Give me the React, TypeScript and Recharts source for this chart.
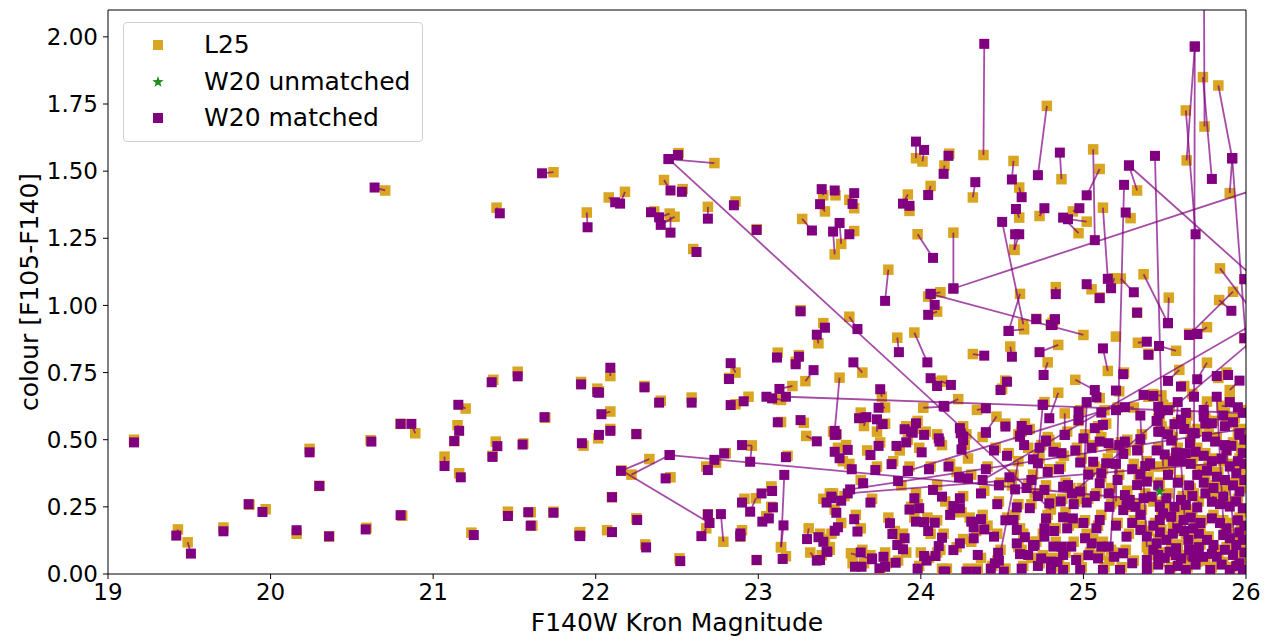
import React from 'react';
import { ScatterChart, Scatter, XAxis, YAxis, ReferenceLine } from 'recharts';

// [L25 mag, L25 colour, W20 mag, W20 colour]
type Match = [number, number, number, number];
type Pt = [number, number];

const magTicks = [19, 20, 21, 22, 23, 24, 25, 26];
const colourTicks = [0, 0.25, 0.5, 0.75, 1.0, 1.25, 1.5, 1.75, 2.0];

// bright end, well separated sources
const brightMatches: Match[] = [
  [19.16, 0.5, 19.16, 0.49], [19.43, 0.166, 19.42, 0.143], [19.49, 0.118, 19.51, 0.076],
  [19.71, 0.173, 19.71, 0.159], [19.87, 0.258, 19.865, 0.26], [19.97, 0.241, 19.95, 0.231],
  [20.16, 0.15, 20.16, 0.163], [20.36, 0.14, 20.36, 0.14], [20.59, 0.172, 20.585, 0.166],
  [20.81, 0.217, 20.8, 0.219], [20.24, 0.466, 20.24, 0.453], [20.3, 0.328, 20.3, 0.328],
  [20.615, 0.498, 20.62, 0.493], [20.8, 0.559, 20.8, 0.559], [20.89, 0.524, 20.866, 0.559],
  [21.07, 0.437, 21.07, 0.402], [21.13, 0.495, 21.13, 0.495], [21.15, 0.554, 21.16, 0.533],
  [21.2, 0.616, 21.155, 0.63], [21.16, 0.375, 21.17, 0.36], [21.235, 0.154, 21.25, 0.145],
  [21.37, 0.723, 21.36, 0.714], [21.385, 0.493, 21.395, 0.476], [21.365, 0.44, 21.365, 0.436],
  [21.46, 0.232, 21.46, 0.216], [21.52, 0.753, 21.52, 0.736], [21.555, 0.486, 21.55, 0.482],
  [21.6, 0.23, 21.585, 0.23], [21.61, 0.18, 21.6, 0.18], [21.69, 0.582, 21.685, 0.584],
  [21.74, 0.232, 21.74, 0.228], [21.9, 0.154, 21.9, 0.143], [21.925, 0.478, 21.915, 0.487],
  [21.91, 0.715, 21.91, 0.706], [22.01, 0.69, 22.01, 0.677], [20.705, 1.428, 20.64, 1.439],
  [21.74, 1.496, 21.67, 1.492], [21.39, 1.364, 21.41, 1.343], [21.945, 1.346, 21.95, 1.291],
];

const midMatches: Match[] = [
  [22.09, 0.605, 22.035, 0.595], [22.015, 0.505, 22.02, 0.518], [22.09, 0.737, 22.09, 0.768],
  [22.02, 0.68, 22.02, 0.675], [22.09, 0.54, 22.09, 0.533], [22.25, 0.521, 22.25, 0.521],
  [22.3, 0.7, 22.3, 0.695], [22.4, 0.645, 22.39, 0.638], [22.59, 0.657, 22.59, 0.638],
  [22.86, 0.75, 22.83, 0.785], [22.82, 0.73, 22.82, 0.726], [22.86, 0.632, 22.83, 0.629],
  [22.94, 0.66, 22.91, 0.643], [23.14, 0.648, 23.05, 0.66], [23.12, 0.65, 23.085, 0.654],
  [23.21, 0.7, 23.13, 0.689], [22.96, 0.478, 22.9, 0.48], [22.96, 0.478, 22.95, 0.418],
  [22.8, 0.45, 22.79, 0.449], [22.74, 0.415, 22.73, 0.425], [22.68, 0.4, 22.69, 0.387],
  [22.33, 0.428, 22.155, 0.384], [22.22, 0.37, 22.455, 0.443], [22.16, 0.385, 22.7, 0.19],
  [22.46, 0.36, 22.43, 0.356], [22.1, 0.286, 22.1, 0.286], [22.25, 0.207, 22.255, 0.201],
  [21.905, 0.156, 21.905, 0.141], [22.07, 0.163, 22.1, 0.156], [22.305, 0.11, 22.31, 0.099],
  [22.515, 0.058, 22.52, 0.048], [22.68, 0.17, 22.65, 0.141], [22.785, 0.12, 22.77, 0.223],
  [22.69, 0.222, 22.69, 0.222], [22.9, 0.163, 22.89, 0.151], [22.89, 0.14, 22.89, 0.14],
  [22.99, 0.052, 22.99, 0.052], [22.915, 0.28, 22.9, 0.266], [22.985, 0.282, 22.95, 0.232],
  [23.08, 0.325, 23.02, 0.3], [23.08, 0.325, 23.085, 0.309], [23.08, 0.25, 23.09, 0.248],
  [23.05, 0.215, 23.025, 0.195], [23.05, 0.215, 23.065, 0.207], [23.14, 0.1, 23.16, 0.369],
  [23.14, 0.1, 23.155, 0.181], [23.17, 0.066, 23.15, 0.056], [23.18, 0.44, 23.17, 0.435],
  [23.14, 0.566, 23.12, 0.565], [23.28, 0.563, 23.26, 0.573], [23.295, 0.514, 23.36, 0.494],
  [23.12, 0.824, 23.115, 0.806], [23.25, 0.815, 23.25, 0.809], [23.23, 0.79, 23.23, 0.781],
  [23.29, 0.718, 23.34, 0.759], [23.26, 0.982, 23.26, 0.978],
];

// red sources, colour above ~0.75
const redMatches: Match[] = [
  [22.73, 1.53, 22.447, 1.545], [22.51, 1.567, 22.506, 1.56], [22.42, 1.467, 22.46, 1.428],
  [22.535, 1.433, 22.53, 1.423], [22.08, 1.402, 22.12, 1.384], [22.18, 1.423, 22.15, 1.379],
  [22.36, 1.35, 22.34, 1.347], [22.455, 1.342, 22.39, 1.328], [22.485, 1.33, 22.4, 1.3],
  [22.46, 1.33, 22.46, 1.271], [22.69, 1.367, 22.69, 1.323], [22.86, 1.387, 22.85, 1.373],
  [22.99, 1.284, 22.99, 1.281], [22.6, 1.21, 22.62, 1.199], [23.4, 1.41, 23.39, 1.433],
  [23.475, 1.41, 23.47, 1.428], [23.56, 1.393, 23.59, 1.418], [23.59, 1.362, 23.58, 1.378],
  [23.41, 1.35, 23.38, 1.377], [23.27, 1.322, 23.33, 1.279], [23.51, 1.229, 23.5, 1.307],
  [23.47, 1.19, 23.46, 1.275], [23.59, 1.277, 23.56, 1.265], [23.56, 0.958, 23.61, 0.912],
  [23.4, 0.934, 23.41, 0.917], [23.37, 0.859, 23.36, 0.891], [23.855, 0.88, 23.865, 0.826],
  [23.96, 0.899, 24.04, 0.788], [23.64, 0.75, 23.585, 0.788], [23.5, 0.731, 23.47, 0.533],
  [23.97, 1.548, 23.97, 1.61], [24.01, 1.536, 24.02, 1.579], [24.175, 1.565, 24.17, 1.557],
  [24.145, 1.521, 24.14, 1.49], [24.06, 1.445, 24.045, 1.411], [23.92, 1.413, 23.89, 1.379],
  [23.93, 1.352, 23.93, 1.371], [23.98, 1.265, 24.075, 1.177], [24.2, 1.271, 24.2, 1.063],
  [23.8, 1.133, 23.78, 1.017], [24.12, 1.049, 24.06, 1.043], [24.045, 1.033, 24.085, 1.002],
  [24.1, 0.977, 24.045, 0.965], [24.385, 1.56, 24.39, 1.974], [24.775, 1.743, 24.72, 1.485],
  [24.865, 1.47, 24.855, 1.569], [25.06, 1.581, 25.07, 1.243], [25.1, 1.508, 25.02, 1.41],
  [25.33, 1.428, 25.28, 1.521], [25.29, 1.325, 25.26, 1.346], [25.12, 1.364, 25.15, 1.099],
  [24.935, 1.35, 24.975, 1.362], [25.02, 1.312, 24.905, 1.321], [24.97, 1.269, 24.875, 1.327],
  [24.57, 1.538, 24.56, 1.469], [24.605, 1.439, 24.62, 1.403], [24.605, 1.327, 24.585, 1.359],
  [24.575, 1.207, 24.58, 1.265], [24.575, 1.207, 24.605, 1.265], [24.73, 1.333, 24.76, 1.362],
  [24.32, 1.402, 24.335, 1.459], [25.735, 1.85, 25.79, 1.471], [25.635, 1.54, 25.685, 1.964],
  [25.63, 1.726, 25.69, 1.265], [25.83, 1.819, 25.915, 1.548], [25.9, 1.418, 25.915, 1.548],
  [25.19, 1.101, 25.17, 1.064], [25.23, 1.1, 25.31, 1.049], [25.1, 1.03, 25.1, 1.027],
  [25.05, 1.06, 25.02, 1.079], [25.37, 1.116, 25.52, 0.934], [25.525, 1.029, 25.52, 0.934],
  [25.33, 0.973, 25.33, 0.973], [25.835, 1.02, 25.91, 0.98], [25.92, 1.051, 25.65, 0.89],
  [25.99, 1.098, 25.99, 1.098], [24.83, 1.068, 24.83, 1.042], [24.61, 1.043, 24.54, 0.905],
  [24.71, 0.95, 24.71, 0.949], [24.82, 0.945, 24.825, 0.949], [24.8, 0.93, 24.8, 0.927],
  [24.32, 0.819, 24.39, 0.813], [24.55, 0.847, 24.56, 0.809], [24.845, 0.853, 24.73, 0.826],
  [24.78, 0.788, 24.755, 0.741], [24.635, 0.911, 24.54, 0.905], [24.81, 0.935, 24.81, 0.927],
  [25.15, 0.756, 25.12, 0.84], [25.335, 0.861, 25.39, 0.865], [25.57, 0.831, 25.465, 0.849],
  [25.4, 0.82, 25.4, 0.816], [25.65, 0.895, 25.7, 0.894], [25.76, 0.919, 25.7, 0.894],
  [25.25, 0.75, 25.245, 0.744], [25.59, 0.76, 25.52, 0.719], [25.76, 0.787, 25.7, 0.725],
  [25.99, 0.878, 25.99, 0.878], [24.13, 0.716, 24.185, 0.704],
];

const faintMidMatches: Match[] = [
  [25.62, 0.7, 25.6, 0.698], [25.83, 0.73, 25.82, 0.737], [25.88, 0.75, 25.89, 0.741],
  [25.9, 0.685, 25.96, 0.72], [24.52, 0.72, 24.53, 0.716], [24.5, 0.69, 24.49, 0.685],
  [24.95, 0.723, 25.07, 0.685], [25.1, 0.655, 25.08, 0.658], [25.22, 0.68, 25.2, 0.683],
  [25.43, 0.67, 25.37, 0.667], [25.48, 0.665, 25.43, 0.663], [24.23, 0.651, 24.14, 0.626],
  [24.345, 0.611, 24.4, 0.617], [24.465, 0.586, 24.4, 0.528], [24.52, 0.56, 24.52, 0.549],
  [24.845, 0.675, 24.79, 0.58], [24.885, 0.598, 24.885, 0.518], [24.98, 0.61, 24.97, 0.604],
  [24.97, 0.57, 24.97, 0.573], [25.13, 0.61, 25.11, 0.601], [25.31, 0.62, 25.255, 0.621],
  [25.49, 0.63, 25.46, 0.623], [25.47, 0.59, 25.465, 0.598], [25.76, 0.642, 25.74, 0.611],
  [25.75, 0.58, 25.74, 0.586], [25.85, 0.626, 25.95, 0.621], [24.26, 0.55, 24.24, 0.543],
  [24.28, 0.52, 24.26, 0.511], [24.64, 0.56, 24.62, 0.551], [24.67, 0.54, 24.655, 0.536],
  [24.6, 0.52, 24.61, 0.514], [25.09, 0.55, 25.07, 0.543], [25.14, 0.56, 25.12, 0.555],
  [25.27, 0.5, 25.255, 0.493], [25.48, 0.54, 25.46, 0.53], [25.58, 0.565, 25.56, 0.558],
  [25.69, 0.53, 25.67, 0.524], [25.8, 0.57, 25.79, 0.561], [25.95, 0.53, 25.96, 0.518],
  [24.79, 0.5, 24.77, 0.497], [24.1, 0.715, 24.06, 0.729], [24.13, 0.72, 24.1, 0.7],
  [23.76, 0.66, 23.75, 0.688], [23.78, 0.62, 23.74, 0.619], [23.63, 0.601, 23.62, 0.58],
  [23.65, 0.551, 23.665, 0.584], [23.73, 0.53, 23.73, 0.576], [23.78, 0.56, 23.765, 0.558],
  [23.98, 0.57, 23.97, 0.561], [23.91, 0.55, 23.9, 0.539], [23.95, 0.54, 23.94, 0.53],
  [24.015, 0.619, 24.145, 0.623], [24.03, 0.53, 24.02, 0.518], [24.1, 0.52, 24.11, 0.505],
  [23.48, 0.52, 23.48, 0.52],
];

// pairs with large offsets between the two catalogues
const wideMatches: Match[] = [
  [26.3, 0.593, 23.17, 0.66], [25.5, 0.27, 22.455, 0.443], [24.8, 0.24, 22.45, 1.545],
  [26.5, 1.52, 24.2, 1.063], [25.0, 0.89, 24.06, 1.043], [26.5, 0.86, 25.28, 1.521],
  [25.2, 0.27, 25.25, 1.449], [25.49, 0.4, 25.44, 1.557], [25.745, 1.666, 25.74, 2.4],
  [25.68, 0.44, 25.685, 1.964], [26.1, 0.06, 25.915, 1.548], [25.84, 1.138, 26.2, 0.85],
  [24.63, 0.93, 24.5, 1.311], [26.2, 0.56, 23.565, 0.315], [26.2, 0.43, 23.55, 0.3],
  [25.4, 0.66, 23.92, 0.384], [26.1, 0.95, 24.38, 0.35], [26.1, 0.9, 24.93, 0.3],
  [25.55, 0.17, 25.58, 0.64], [25.86, 0.2, 25.82, 0.66], [25.0, 0.28, 25.02, 0.64],
  [25.39, 0.1, 25.35, 0.59], [24.7, 0.3, 24.75, 0.63], [25.64, 0.05, 25.6, 0.42],
  [25.93, 0.12, 25.88, 0.46], [25.16, 0.05, 25.2, 0.41], [24.6, 0.42, 24.48, 0.05],
];

// crowded faint end, 23.3 < mag < 24.7
const faintMatchesA: Match[] = [
  [23.46, 0.53, 23.47, 0.518], [23.75, 0.49, 23.74, 0.477], [23.87, 0.46, 23.85, 0.477],
  [23.92, 0.5, 23.91, 0.49], [23.96, 0.54, 23.95, 0.526], [23.99, 0.47, 24.005, 0.453],
  [24.13, 0.48, 24.115, 0.493], [24.25, 0.54, 24.245, 0.524], [24.27, 0.48, 24.26, 0.499],
  [24.29, 0.43, 24.25, 0.464], [24.38, 0.51, 24.4, 0.526], [24.62, 0.53, 24.61, 0.511],
  [24.66, 0.47, 24.635, 0.48], [24.72, 0.44, 24.69, 0.427], [23.49, 0.47, 23.47, 0.455],
  [23.52, 0.42, 23.5, 0.431], [23.54, 0.48, 23.55, 0.462], [23.67, 0.46, 23.69, 0.443],
  [23.83, 0.42, 23.82, 0.409], [23.56, 0.41, 23.575, 0.39], [23.73, 0.4, 23.72, 0.387],
  [23.93, 0.4, 23.92, 0.384], [23.88, 0.33, 23.86, 0.346], [23.63, 0.35, 23.645, 0.338],
  [24.22, 0.38, 24.235, 0.36], [24.31, 0.37, 24.29, 0.356], [24.1, 0.33, 24.075, 0.313],
  [24.15, 0.27, 24.13, 0.288], [23.97, 0.3, 23.96, 0.282], [23.98, 0.26, 23.99, 0.245],
  [24.39, 0.31, 24.37, 0.3], [24.57, 0.37, 24.545, 0.36], [24.56, 0.33, 24.58, 0.315],
  [24.6, 0.26, 24.59, 0.248], [23.44, 0.3, 23.45, 0.282], [23.53, 0.29, 23.51, 0.273],
  [23.4, 0.28, 23.42, 0.266], [23.7, 0.28, 23.69, 0.266], [23.47, 0.24, 23.48, 0.228],
  [24.26, 0.29, 24.24, 0.282], [24.22, 0.24, 24.2, 0.253], [24.25, 0.23, 24.24, 0.245],
  [23.6, 0.22, 23.59, 0.204], [23.51, 0.19, 23.49, 0.174], [23.45, 0.15, 23.47, 0.161],
  [23.63, 0.17, 23.61, 0.158], [23.8, 0.21, 23.81, 0.189], [23.84, 0.16, 23.825, 0.149],
  [23.96, 0.21, 23.97, 0.195], [24.04, 0.21, 24.02, 0.193], [24.1, 0.2, 24.085, 0.191],
  [24.06, 0.15, 24.045, 0.16], [23.89, 0.15, 23.9, 0.133], [23.87, 0.12, 23.855, 0.108],
  [23.91, 0.08, 23.89, 0.092], [24.14, 0.15, 24.13, 0.135], [24.12, 0.09, 24.11, 0.104],
  [24.3, 0.21, 24.31, 0.195], [24.38, 0.22, 24.37, 0.204], [24.34, 0.16, 24.325, 0.174],
  [24.41, 0.18, 24.39, 0.166], [24.31, 0.12, 24.325, 0.133], [24.47, 0.15, 24.45, 0.139],
  [24.26, 0.13, 24.24, 0.114], [24.22, 0.1, 24.2, 0.089], [24.37, 0.06, 24.35, 0.071],
  [24.49, 0.09, 24.475, 0.079], [24.47, 0.05, 24.455, 0.04], [24.58, 0.22, 24.57, 0.201],
  [24.61, 0.17, 24.59, 0.164], [24.63, 0.15, 24.64, 0.137], [24.6, 0.1, 24.59, 0.114],
  [24.7, 0.12, 24.69, 0.104], [24.62, 0.09, 24.61, 0.074], [24.68, 0.06, 24.66, 0.071],
  [23.69, 0.07, 23.7, 0.058], [23.78, 0.08, 23.77, 0.064], [23.79, 0.04, 23.78, 0.027],
  [23.86, 0.05, 23.845, 0.042], [23.58, 0.04, 23.595, 0.027], [23.65, 0.04, 23.635, 0.027],
  [23.39, 0.07, 23.38, 0.052], [23.44, 0.09, 23.42, 0.083], [23.75, 0.01, 23.745, 0.021],
  [24.05, 0.06, 24.035, 0.05], [24.0, 0.08, 24.02, 0.067], [24.1, 0.08, 24.09, 0.067],
  [24.35, 0.02, 24.34, 0.009], [24.16, 0.02, 24.15, 0.009], [24.29, 0.02, 24.28, 0.009],
  [24.52, 0.02, 24.51, 0.009], [23.31, 0.17, 23.3, 0.13], [23.38, 0.15, 23.37, 0.137],
  [23.41, 0.13, 23.4, 0.12], [23.44, 0.1, 23.425, 0.083], [23.32, 0.08, 23.36, 0.05],
  [23.57, 0.077, 23.7, 0.055], [24.13, 0.02, 24.14, 0.009], [23.46, 0.3, 23.45, 0.288],
];

// crowded faint end, mag > 24.7
const faintMatchesB: Match[] = [
  [24.78, 0.51, 24.77, 0.493], [24.9, 0.53, 24.885, 0.518], [25.01, 0.52, 25.0, 0.505],
  [25.11, 0.51, 25.1, 0.493], [25.17, 0.47, 25.155, 0.487], [25.36, 0.52, 25.35, 0.502],
  [25.48, 0.55, 25.47, 0.53], [25.55, 0.51, 25.54, 0.497], [25.66, 0.5, 25.655, 0.487],
  [25.7, 0.54, 25.685, 0.524], [25.77, 0.53, 25.76, 0.511], [25.82, 0.51, 25.81, 0.493],
  [25.88, 0.46, 25.87, 0.48], [25.92, 0.49, 25.91, 0.477], [25.97, 0.54, 25.96, 0.524],
  [24.73, 0.43, 24.72, 0.412], [24.83, 0.47, 24.815, 0.455], [24.88, 0.44, 24.865, 0.45],
  [24.99, 0.43, 24.98, 0.415], [25.07, 0.4, 25.06, 0.418], [25.15, 0.43, 25.14, 0.412],
  [25.12, 0.39, 25.11, 0.375], [25.26, 0.46, 25.245, 0.447], [25.31, 0.41, 25.3, 0.39],
  [25.39, 0.42, 25.38, 0.402], [25.43, 0.4, 25.41, 0.412], [25.58, 0.47, 25.57, 0.452],
  [25.64, 0.43, 25.63, 0.45], [25.53, 0.39, 25.52, 0.369], [25.71, 0.39, 25.7, 0.369],
  [25.77, 0.4, 25.76, 0.385], [25.83, 0.38, 25.82, 0.362], [25.88, 0.33, 25.87, 0.35],
  [25.95, 0.39, 25.94, 0.375], [25.97, 0.47, 25.98, 0.45], [24.69, 0.37, 24.68, 0.35],
  [24.77, 0.33, 24.76, 0.313], [24.89, 0.34, 24.875, 0.325], [24.92, 0.32, 24.905, 0.331],
  [24.99, 0.32, 24.98, 0.307], [25.11, 0.36, 25.1, 0.338], [25.17, 0.32, 25.155, 0.3],
  [25.22, 0.37, 25.21, 0.35], [25.27, 0.31, 25.255, 0.294], [25.3, 0.26, 25.285, 0.276],
  [25.34, 0.35, 25.33, 0.331], [25.4, 0.36, 25.39, 0.344], [25.38, 0.3, 25.37, 0.282],
  [25.43, 0.27, 25.42, 0.288], [25.52, 0.3, 25.51, 0.282], [25.61, 0.29, 25.6, 0.276],
  [25.64, 0.24, 25.63, 0.257], [25.71, 0.27, 25.7, 0.248], [25.8, 0.29, 25.79, 0.269],
  [25.87, 0.31, 25.86, 0.288], [25.91, 0.27, 25.9, 0.251], [25.97, 0.32, 25.96, 0.307],
  [25.99, 0.23, 25.98, 0.245], [24.68, 0.26, 24.67, 0.245], [24.8, 0.28, 24.79, 0.263],
  [25.03, 0.28, 25.02, 0.266], [24.78, 0.22, 24.77, 0.207], [24.89, 0.23, 24.875, 0.211],
  [24.95, 0.19, 24.935, 0.207], [25.11, 0.22, 25.1, 0.201], [25.26, 0.25, 25.245, 0.238],
  [25.28, 0.27, 25.265, 0.257], [25.36, 0.24, 25.35, 0.22], [25.48, 0.22, 25.47, 0.201],
  [25.5, 0.24, 25.49, 0.226], [25.55, 0.2, 25.54, 0.213], [25.63, 0.22, 25.615, 0.201],
  [25.8, 0.22, 25.79, 0.207], [25.89, 0.19, 25.88, 0.17], [24.77, 0.19, 24.76, 0.17],
  [24.75, 0.15, 24.76, 0.139], [24.71, 0.12, 24.7, 0.108], [24.83, 0.12, 24.815, 0.102],
  [24.88, 0.09, 24.865, 0.102], [24.94, 0.12, 24.925, 0.102], [25.02, 0.15, 25.01, 0.133],
  [25.06, 0.13, 25.05, 0.114], [25.12, 0.12, 25.11, 0.102], [25.17, 0.09, 25.155, 0.102],
  [25.28, 0.15, 25.265, 0.139], [25.36, 0.18, 25.35, 0.164], [25.4, 0.16, 25.39, 0.139],
  [25.46, 0.13, 25.45, 0.114], [25.52, 0.14, 25.51, 0.127], [25.58, 0.11, 25.57, 0.096],
  [25.66, 0.14, 25.645, 0.127], [25.69, 0.19, 25.675, 0.17], [25.77, 0.14, 25.76, 0.127],
  [25.81, 0.09, 25.8, 0.108], [25.91, 0.15, 25.9, 0.133], [25.95, 0.12, 25.94, 0.108],
  [25.99, 0.14, 25.98, 0.127], [24.75, 0.07, 24.74, 0.058], [24.81, 0.06, 24.8, 0.046],
  [24.89, 0.08, 24.875, 0.071], [24.97, 0.06, 24.955, 0.052], [25.1, 0.07, 25.09, 0.058],
  [25.2, 0.08, 25.19, 0.064], [25.26, 0.09, 25.245, 0.077], [25.4, 0.07, 25.39, 0.052],
  [25.47, 0.08, 25.46, 0.071], [25.54, 0.1, 25.53, 0.083], [25.61, 0.07, 25.6, 0.058],
  [25.69, 0.08, 25.675, 0.064], [25.75, 0.05, 25.735, 0.064], [25.83, 0.08, 25.82, 0.064],
  [25.93, 0.09, 25.92, 0.071], [25.97, 0.05, 25.96, 0.04], [24.81, 0.025, 24.8, 0.015],
  [24.885, 0.025, 24.875, 0.015], [24.99, 0.025, 24.98, 0.015], [25.13, 0.025, 25.12, 0.015],
  [25.235, 0.025, 25.225, 0.015], [25.4, 0.025, 25.39, 0.015], [25.54, 0.025, 25.53, 0.015],
  [25.64, 0.025, 25.63, 0.015], [25.79, 0.025, 25.78, 0.015], [25.91, 0.025, 25.9, 0.015],
  [25.99, 0.025, 25.98, 0.015],
];

// faintest, most crowded bins
const faintMatchesC: Match[] = [
  [25.53, 0.62, 25.52, 0.61], [25.64, 0.59, 25.63, 0.6], [25.87, 0.6, 25.86, 0.59],
  [25.99, 0.61, 25.98, 0.6], [25.46, 0.58, 25.45, 0.57], [25.61, 0.56, 25.6, 0.575],
  [25.93, 0.58, 25.92, 0.565], [25.46, 0.47, 25.45, 0.46], [25.51, 0.43, 25.5, 0.445],
  [25.7, 0.47, 25.69, 0.455], [25.75, 0.45, 25.74, 0.44], [25.86, 0.42, 25.85, 0.43],
  [25.96, 0.43, 25.95, 0.42], [25.56, 0.43, 25.55, 0.42], [25.67, 0.42, 25.66, 0.41],
  [25.8, 0.43, 25.79, 0.42], [25.91, 0.41, 25.9, 0.4], [25.99, 0.4, 25.99, 0.41],
  [25.47, 0.34, 25.46, 0.33], [25.59, 0.35, 25.58, 0.34], [25.66, 0.32, 25.65, 0.33],
  [25.75, 0.35, 25.74, 0.34], [25.81, 0.33, 25.8, 0.32], [25.93, 0.34, 25.92, 0.33],
  [25.99, 0.36, 25.99, 0.35], [25.48, 0.26, 25.47, 0.25], [25.57, 0.24, 25.56, 0.25],
  [25.68, 0.3, 25.67, 0.29], [25.76, 0.31, 25.75, 0.3], [25.85, 0.27, 25.84, 0.26],
  [25.95, 0.28, 25.94, 0.27], [25.44, 0.19, 25.43, 0.18], [25.59, 0.18, 25.58, 0.17],
  [25.67, 0.22, 25.66, 0.21], [25.73, 0.2, 25.72, 0.19], [25.85, 0.2, 25.84, 0.19],
  [25.96, 0.21, 25.95, 0.2], [25.99, 0.17, 25.99, 0.18], [25.48, 0.165, 25.47, 0.155],
  [25.56, 0.16, 25.55, 0.15], [25.63, 0.15, 25.62, 0.16], [25.72, 0.16, 25.71, 0.15],
  [25.87, 0.155, 25.86, 0.145], [25.97, 0.165, 25.96, 0.155], [25.44, 0.1, 25.43, 0.09],
  [25.51, 0.07, 25.5, 0.06], [25.58, 0.08, 25.57, 0.07], [25.66, 0.1, 25.65, 0.09],
  [25.72, 0.11, 25.71, 0.1], [25.8, 0.085, 25.79, 0.075], [25.88, 0.1, 25.87, 0.09],
  [25.99, 0.09, 25.99, 0.08], [25.47, 0.045, 25.46, 0.035], [25.59, 0.04, 25.58, 0.03],
  [25.7, 0.045, 25.69, 0.035], [25.86, 0.045, 25.85, 0.035], [25.95, 0.04, 25.94, 0.03],
  [25.53, 0.53, 25.52, 0.52], [25.63, 0.55, 25.62, 0.54], [25.76, 0.57, 25.75, 0.56],
  [25.88, 0.56, 25.87, 0.55], [25.99, 0.51, 25.99, 0.5], [25.67, 0.67, 25.68, 0.66],
  [25.9, 0.65, 25.9, 0.64], [24.76, 0.64, 24.75, 0.63], [25.21, 0.62, 25.2, 0.61],
  [24.74, 0.48, 24.73, 0.47], [24.96, 0.47, 24.95, 0.46], [25.06, 0.48, 25.05, 0.47],
  [25.23, 0.49, 25.22, 0.48], [25.34, 0.47, 25.33, 0.46], [24.79, 0.39, 24.78, 0.38],
  [24.86, 0.4, 24.85, 0.39], [25.04, 0.38, 25.03, 0.37], [25.36, 0.38, 25.35, 0.37],
  [24.73, 0.3, 24.72, 0.29], [24.87, 0.28, 24.86, 0.27], [24.95, 0.27, 24.94, 0.26],
  [25.08, 0.3, 25.07, 0.29], [25.17, 0.26, 25.16, 0.25], [25.33, 0.26, 25.32, 0.25],
  [24.83, 0.17, 24.82, 0.16], [24.91, 0.18, 24.9, 0.17], [25.01, 0.2, 25.0, 0.19],
  [25.09, 0.18, 25.08, 0.17], [25.21, 0.19, 25.2, 0.18], [25.31, 0.2, 25.3, 0.19],
  [24.73, 0.04, 24.72, 0.03], [24.85, 0.055, 24.84, 0.045], [25.04, 0.08, 25.03, 0.07],
  [25.31, 0.05, 25.3, 0.04], [24.46, 0.47, 24.45, 0.46], [24.54, 0.45, 24.53, 0.44],
  [24.41, 0.4, 24.4, 0.39], [24.49, 0.34, 24.48, 0.33], [24.66, 0.33, 24.65, 0.32],
  [24.48, 0.27, 24.47, 0.26], [24.53, 0.21, 24.52, 0.2], [24.18, 0.41, 24.17, 0.4],
  [24.06, 0.4, 24.05, 0.39], [24.19, 0.23, 24.18, 0.22], [23.94, 0.25, 23.93, 0.24],
  [24.44, 0.03, 24.43, 0.02], [24.63, 0.03, 24.62, 0.02], [23.99, 0.03, 23.98, 0.02],
  [23.64, 0.09, 23.63, 0.08],
];

const l25Unpaired: Pt[] = [[25.2, 0.884]];
const w20Unmatched: Pt[] = [[25.47, 0.307]];

const allMatches: Match[] = [
  ...brightMatches, ...midMatches, ...redMatches, ...faintMidMatches,
  ...wideMatches, ...faintMatchesA, ...faintMatchesB, ...faintMatchesC,
];

const l25Data = [
  ...allMatches.map((m) => ({ mag: m[0], col: m[1] })),
  ...l25Unpaired.map((p) => ({ mag: p[0], col: p[1] })),
];
const w20MatchedData = allMatches.map((m) => ({ mag: m[2], col: m[3] }));
const w20UnmatchedData = w20Unmatched.map((p) => ({ mag: p[0], col: p[1] }));

const ORANGE = '#DAA520';
const PURPLE = '#800080';
const GREEN = '#228B22';
const FONT = 'DejaVu Sans, sans-serif';

const squareShape = (fill: string, size: number) => (props: any) => {
  const { cx, cy } = props;
  if (cx == null || cy == null) return <g />;
  return <rect x={cx - size / 2} y={cy - size / 2} width={size} height={size} fill={fill} />;
};

const starPoints = (cx: number, cy: number, r: number) => {
  const pts: string[] = [];
  for (let i = 0; i < 10; i++) {
    const rad = i % 2 === 0 ? r : r * 0.4;
    const a = -Math.PI / 2 + (i * Math.PI) / 5;
    pts.push(`${cx + rad * Math.cos(a)},${cy + rad * Math.sin(a)}`);
  }
  return pts.join(' ');
};

const starShape = (props: any) => {
  const { cx, cy } = props;
  if (cx == null || cy == null) return <g />;
  return <polygon points={starPoints(cx, cy, 6)} fill={GREEN} />;
};

const legendItems = [
  { label: 'L25', kind: 'square', color: ORANGE },
  { label: 'W20 unmatched', kind: 'star', color: GREEN },
  { label: 'W20 matched', kind: 'square', color: PURPLE },
];

function LegendBox() {
  return (
    <div
      style={{
        position: 'absolute', left: 115, top: 14, width: 298, height: 118,
        border: '1px solid #d0d0d0', borderRadius: 4, background: 'rgba(255,255,255,0.85)',
        fontFamily: FONT, fontSize: 25, color: '#000',
      }}
    >
      {legendItems.map((it, i) => (
        <div key={it.label} style={{ position: 'absolute', left: 0, top: 6 + i * 36.5, height: 32, display: 'flex', alignItems: 'center' }}>
          <svg width={70} height={32} style={{ display: 'block' }}>
            {it.kind === 'square'
              ? <rect x={29} y={11} width={10} height={10} fill={it.color} />
              : <polygon points={starPoints(34, 16, 6)} fill={it.color} />}
          </svg>
          <span style={{ marginLeft: 10, lineHeight: '32px' }}>{it.label}</span>
        </div>
      ))}
    </div>
  );
}

export default function App() {
  const tickStyle = { fill: '#000', fontSize: 23, fontFamily: FONT };
  return (
    <div style={{ position: 'relative', width: 1259, height: 635, background: '#fff' }}>
      <ScatterChart width={1259} height={635} margin={{ top: 2, right: 21, bottom: 0, left: 0 }}>
        <XAxis
          type="number" dataKey="mag" domain={[19, 26]} ticks={magTicks} interval={0}
          allowDataOverflow height={69} tick={tickStyle} tickSize={5} tickMargin={5}
          stroke="#000" tickLine={{ stroke: '#000' }} axisLine={{ stroke: '#000' }}
          label={{ value: 'F140W Kron Magnitude', position: 'insideBottom', offset: 12, fill: '#000', fontSize: 25, fontFamily: FONT }}
        />
        <YAxis
          type="number" dataKey="col" domain={[0, 2.1]} ticks={colourTicks} interval={0}
          allowDataOverflow width={100} tick={tickStyle} tickSize={5} tickMargin={5}
          tickFormatter={(v: number) => v.toFixed(2)}
          stroke="#000" tickLine={{ stroke: '#000' }} axisLine={{ stroke: '#000' }}
          label={{
            content: () => (
              <text x={30} y={284} transform="rotate(-90, 30, 284)" textAnchor="middle" fontSize={25} fontFamily={FONT} fill="#000">
                colour [F105-F140]
              </text>
            ),
          }}
        />
        <Scatter name="L25" data={l25Data} shape={squareShape(ORANGE, 10.5)} isAnimationActive={false} zIndex={610} />
        {allMatches.map((m, i) => (
          <ReferenceLine
            key={`link-${i}`}
            segment={[{ x: m[0], y: m[1] }, { x: m[2], y: m[3] }]}
            stroke={PURPLE} strokeOpacity={0.7} strokeWidth={1.8}
            ifOverflow="hidden" zIndex={620}
          />
        ))}
        <Scatter name="W20 matched" data={w20MatchedData} shape={squareShape(PURPLE, 10)} isAnimationActive={false} zIndex={630} />
        <Scatter name="W20 unmatched" data={w20UnmatchedData} shape={starShape} isAnimationActive={false} zIndex={640} />
        <ReferenceLine y={2.1} stroke="#000" strokeWidth={1} ifOverflow="visible" zIndex={650} />
        <ReferenceLine x={26} stroke="#000" strokeWidth={1} ifOverflow="visible" zIndex={650} />
      </ScatterChart>
      <LegendBox />
    </div>
  );
}
